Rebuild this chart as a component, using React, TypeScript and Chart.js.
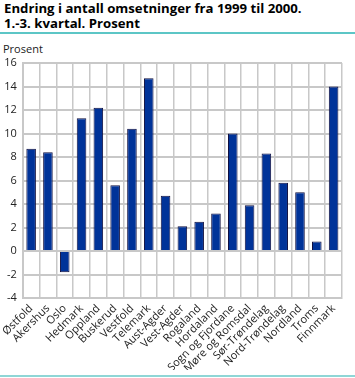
import React, { useEffect, useRef } from "react";
import { Chart, registerables } from "chart.js";

Chart.register(...registerables);

const categories = [
  "Østfold", "Akershus", "Oslo", "Hedmark", "Oppland", "Buskerud", "Vestfold",
  "Telemark", "Aust-Agder", "Vest-Agder", "Rogaland", "Hordaland",
  "Sogn og Fjordane", "Møre og Romsdal", "Sør-Trøndelag", "Nord-Trøndelag",
  "Nordland", "Troms", "Finnmark",
];
const values = [8.7, 8.4, -1.8, 11.3, 12.2, 5.6, 10.4, 14.7, 4.7, 2.1, 2.5, 3.2, 10.0, 3.9, 8.3, 5.8, 5.0, 0.8, 14.0];
const titleLines = ["Endring i antall omsetninger fra 1999 til 2000.", "1.-3. kvartal. Prosent"];
const yAxisLabel = "Prosent";
const yMin = -4;
const yMax = 16;
const yStep = 2;

const FONT = "'Open Sans', 'Lato', sans-serif";

export default function App() {
  const ref = useRef<HTMLCanvasElement>(null);
  useEffect(() => {
    if (!ref.current) return;
    const chart = new Chart(ref.current, {
      type: "bar",
      data: {
        labels: categories,
        datasets: [
          {
            data: values,
            backgroundColor: "#003399",
            borderColor: "#101040",
            borderWidth: 1,
            barPercentage: 0.57,
            categoryPercentage: 1,
          },
        ],
      },
      options: {
        responsive: false,
        animation: false,
        layout: { padding: { top: 63, left: 0, right: 13, bottom: 8 } },
        plugins: { legend: { display: false }, tooltip: { enabled: false }, title: { display: false } },
        scales: {
          x: {
            grid: { color: "#c8c8c8", lineWidth: 1.5, drawTicks: false, offset: true },
            border: { display: true, color: "#c8c8c8", width: 2 },
            ticks: {
              autoSkip: false,
              maxRotation: 45,
              minRotation: 45,
              padding: 4,
              color: "#222",
              font: { family: FONT, size: 11 },
            },
            afterFit: (s: any) => { s.height = 72; },
          },
          y: {
            min: yMin,
            max: yMax,
            grid: { color: "#c8c8c8", lineWidth: 2, drawTicks: false },
            border: { display: true, color: "#c8c8c8", width: 2 },
            ticks: {
              stepSize: yStep,
              padding: 6,
              color: "#222",
              font: { family: FONT, size: 11 },
            },
            afterFit: (s: any) => { s.width = 22; },
          },
        },
      },
    });
    return () => chart.destroy();
  }, []);

  return (
    <div style={{ position: "absolute", left: 0, top: 0, width: 355, height: 378, background: "#fff", overflow: "hidden" }}>
      <div style={{ position: "absolute", left: 4, top: 1, fontFamily: FONT, fontWeight: 700, fontSize: 13.2, lineHeight: "15px", color: "#000" }}>
        {titleLines.map((t, i) => <div key={i}>{t}</div>)}
      </div>
      <div style={{ position: "absolute", left: 0, top: 32, width: 355, height: 2, background: "#5cc6c6" }} />
      <div style={{ position: "absolute", left: 3, top: 41, fontFamily: FONT, fontSize: 11, color: "#222" }}>{yAxisLabel}</div>
      <canvas ref={ref} width={355} height={378} style={{ position: "absolute", left: 0, top: 0 }} />
      <div style={{ position: "absolute", left: 0, top: 375, width: 355, height: 2, background: "#8fd6d6" }} />
    </div>
  );
}
